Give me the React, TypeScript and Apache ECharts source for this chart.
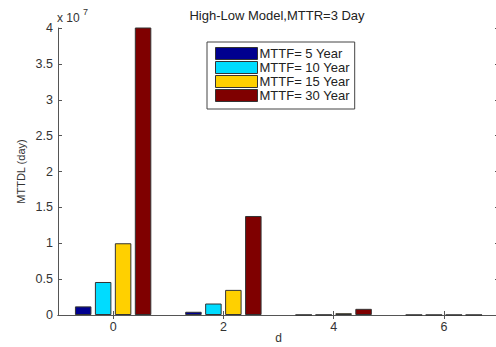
import React, { useEffect, useRef } from "react";
import * as echarts from "echarts";

// d values on the horizontal axis
const categories = ["0", "2", "4", "6"];

// MTTDL (days) for each MTTF setting
const seriesNames = ["MTTF= 5 Year", "MTTF= 10 Year", "MTTF= 15 Year", "MTTF= 30 Year"];
const mttf5 = [1.2e6, 4.5e5, 2e4, 1e4];
const mttf10 = [4.6e6, 1.6e6, 3e4, 1e4];
const mttf15 = [1.0e7, 3.5e6, 2.5e5, 1e4];
const mttf30 = [5.2e7, 1.38e7, 8.6e5, 1e4];

const colors = ["#00008f", "#00dcff", "#ffd000", "#7f0000"];

const FONT = "'Liberation Sans', Arial, sans-serif";

export default function App() {
  const ref = useRef<HTMLDivElement>(null);

  useEffect(() => {
    if (!ref.current) return;
    const chart = echarts.init(ref.current, undefined, { renderer: "svg" });
    const values = [mttf5, mttf10, mttf15, mttf30];

    const boxAxisLine = { show: true, lineStyle: { color: "#555", width: 1 } };
    const tick = { show: true, inside: true, length: 4, lineStyle: { color: "#555" } };

    chart.setOption({
      animation: false,
      backgroundColor: "#ffffff",
      textStyle: { fontFamily: FONT },
      grid: { left: 58, top: 28, width: 441, height: 287, outerBoundsMode: "none", containLabel: false },
      legend: {
        orient: "vertical",
        left: 207,
        top: 42,
        padding: [5, 5, 7, 8],
        borderColor: "#444",
        borderWidth: 1,
        itemWidth: 42,
        itemHeight: 12,
        itemGap: 1,
        icon: "rect",
        itemStyle: { borderColor: "#333", borderWidth: 1 },
        textStyle: { fontSize: 13, color: "#222", fontFamily: FONT, padding: [0, 0, 0, -3] },
        data: seriesNames,
      },
      graphic: [
        {
          type: "text",
          x: 277,
          y: 15,
          style: {
            text: "High-Low Model,MTTR=3 Day",
            fontSize: 13,
            fill: "#222",
            fontFamily: FONT,
            align: "center",
            verticalAlign: "middle",
          },
        },
        { type: "text", left: 57, top: 12, style: { text: "x 10", fontSize: 12, fill: "#333", fontFamily: FONT } },
        { type: "text", left: 83, top: 7, style: { text: "7", fontSize: 9, fill: "#333", fontFamily: FONT } },
      ],
      xAxis: [
        {
          type: "category",
          data: categories,
          position: "bottom",
          name: "d",
          nameLocation: "middle",
          nameGap: 17,
          nameMoveOverlap: false,
          nameTextStyle: { fontSize: 12, color: "#333", fontFamily: FONT },
          axisLine: boxAxisLine,
          axisTick: { ...tick, alignWithLabel: true },
          axisLabel: { fontSize: 12.5, color: "#333", margin: 5, fontFamily: FONT },
          splitLine: { show: false },
        },
        {
          type: "category",
          data: categories,
          position: "top",
          axisLine: boxAxisLine,
          axisTick: { ...tick, alignWithLabel: true },
          axisLabel: { show: false },
          splitLine: { show: false },
        },
      ],
      yAxis: [
        {
          type: "value",
          min: 0,
          max: 4e7,
          interval: 5e6,
          position: "left",
          name: "MTTDL (day)",
          nameLocation: "middle",
          nameGap: 32,
          nameMoveOverlap: false,
          nameTextStyle: { fontSize: 11, color: "#333", fontFamily: FONT },
          axisLine: boxAxisLine,
          axisTick: tick,
          axisLabel: {
            fontSize: 12.5,
            color: "#333",
            margin: 5,
            fontFamily: FONT,
            formatter: (v: number) => String(Math.round((v / 1e7) * 10) / 10),
          },
          splitLine: { show: false },
        },
        {
          type: "value",
          min: 0,
          max: 4e7,
          interval: 5e6,
          position: "right",
          axisLine: boxAxisLine,
          axisTick: tick,
          axisLabel: { show: false },
          splitLine: { show: false },
        },
      ],
      series: seriesNames.map((name, i) => ({
        name,
        type: "bar",
        xAxisIndex: 0,
        yAxisIndex: 0,
        data: values[i],
        barWidth: 16.5,
        barGap: "21%",
        clip: true,
        itemStyle: { color: colors[i], borderColor: "#333", borderWidth: 1 },
      })),
    });

    return () => chart.dispose();
  }, []);

  return (
    <div
      ref={ref}
      style={{ position: "fixed", left: 0, top: 0, width: 496, height: 347, background: "#fff" }}
    />
  );
}
